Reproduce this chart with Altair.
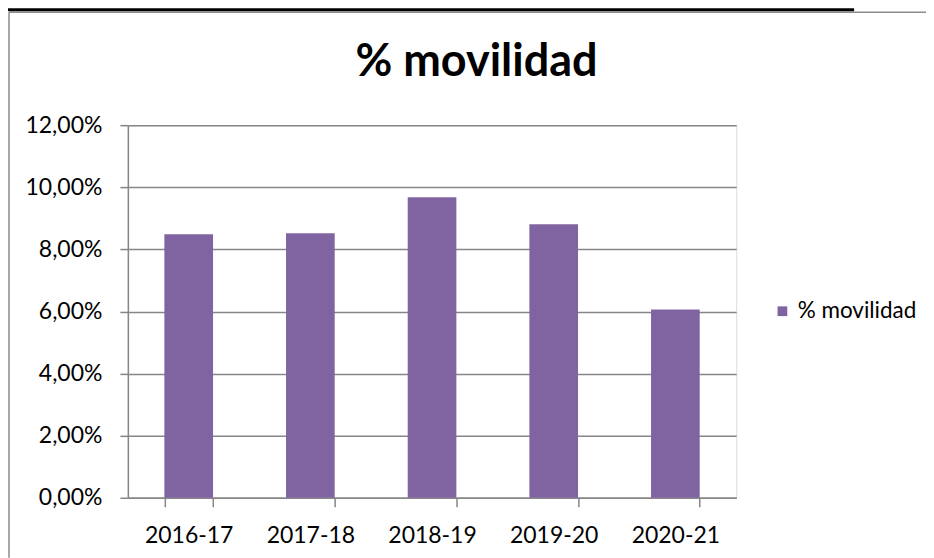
import altair as alt
import pandas as pd

categorias = ["2016-17", "2017-18", "2018-19", "2019-20", "2020-21"]
valores = [0.0849, 0.0852, 0.0968, 0.0881, 0.0606]
serie = "% movilidad"
titulo = "% movilidad"
y_ticks = [0, 0.02, 0.04, 0.06, 0.08, 0.10, 0.12]

df = pd.DataFrame({"curso": categorias, "valor": valores, "serie": [serie] * len(categorias)})

FONT = "Lato"
GRID = "#868686"
W, H = 609, 373

bars = alt.Chart(df).mark_bar(color="#8064A2").encode(
    x=alt.X("curso:N", sort=categorias, title=None,
            scale=alt.Scale(paddingInner=0.6, paddingOuter=0.3),
            axis=alt.Axis(labelAngle=0, labelFontSize=23, labelFont=FONT, labelColor="#000000",
                          labelPadding=18, tickSize=9, tickBand="extent", tickColor=GRID,
                          tickWidth=1.5, domainWidth=1.5, domainColor=GRID, grid=False)),
    y=alt.Y("valor:Q", title=None,
            scale=alt.Scale(domain=[0, 0.12], nice=False),
            axis=alt.Axis(values=y_ticks, labelFontSize=23, labelFont=FONT, labelColor="#000000",
                          labelExpr="replace(format(datum.value*100, '.2f'), '.', ',') + '%'",
                          labelPadding=18, tickSize=8, tickColor=GRID, tickWidth=1.5,
                          domainColor=GRID, domainWidth=1.5,
                          gridColor=GRID, gridWidth=1.5)),
    color=alt.Color("serie:N", scale=alt.Scale(range=["#8064A2"]),
                    legend=alt.Legend(title=None, orient="none", legendX=644, legendY=175,
                                      symbolType="square", symbolSize=95, symbolStrokeWidth=0,
                                      labelFontSize=22.5, labelFont=FONT, labelColor="#000000",
                                      labelOffset=4)),
)

one = pd.DataFrame({"a": [0]})
frame_v = alt.Chart(one).mark_rule(color="#8c8c8c", strokeWidth=1.5).encode(
    x=alt.value(-119), y=alt.value(-113), y2=alt.value(H + 60))
frame_h = alt.Chart(one).mark_rule(color="#8c8c8c", strokeWidth=1.5).encode(
    x=alt.value(-119), x2=alt.value(W + 200), y=alt.value(-113))
top_line = alt.Chart(one).mark_rule(color="#000000", strokeWidth=3).encode(
    x=alt.value(-120), x2=alt.value(727), y=alt.value(-115.5))
title_text = alt.Chart(one).mark_text(
    font=FONT, fontSize=45, fontWeight="bold", color="#000000",
    align="center", baseline="alphabetic").encode(
    x=alt.value(349), y=alt.value(-49), text=alt.value(titulo))

chart = alt.layer(frame_v, frame_h, top_line, title_text, bars).properties(
    width=W, height=H,
    autosize=alt.AutoSizeParams(type="none"),
    padding={"left": 120, "top": 117, "right": 190, "bottom": 60},
).configure_view(stroke=None).configure(background="white")

chart.save("out.html", embed_options={"renderer": "svg", "actions": False})
